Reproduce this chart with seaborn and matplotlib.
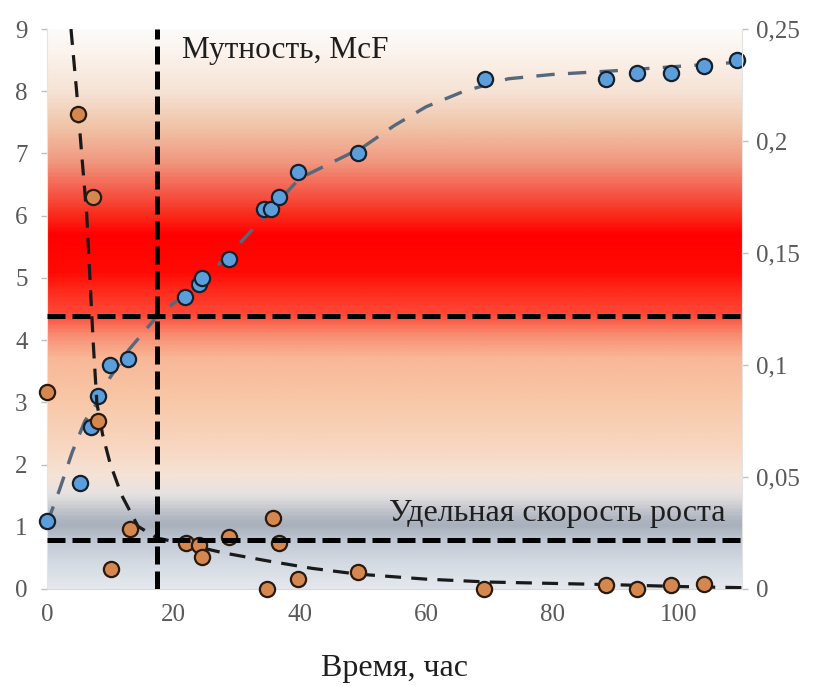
import numpy as np
import pandas as pd
import matplotlib
matplotlib.use("Agg")
import matplotlib.pyplot as plt
import seaborn as sns
from matplotlib.colors import LinearSegmentedColormap
from matplotlib.ticker import FuncFormatter

# мутность, McF (левая ось)
t_mcf = [0, 5.2, 7.0, 8.1, 10.0, 12.8, 21.8, 24.0, 24.6, 28.8, 34.4, 35.5, 36.8,
         39.8, 49.3, 69.4, 88.5, 93.4, 98.7, 104.0, 109.2]
mcf = [1.1, 1.7, 2.6, 3.1, 3.6, 3.7, 4.7, 4.9, 5.0, 5.3, 6.1, 6.1, 6.3,
       6.7, 7.0, 8.2, 8.2, 8.3, 8.3, 8.4, 8.5]

# аппроксимация мутности
t_mcf_fit = [0, 2, 4, 6, 8, 10, 13, 17.4, 22, 26, 30, 35, 40, 45, 50, 55, 60,
             66, 73, 80, 90, 100, 110]
mcf_fit = [1.05, 1.6, 2.2, 2.7, 3.0, 3.4, 3.85, 4.38, 4.75, 5.1, 5.5, 6.05, 6.6,
           6.85, 7.1, 7.45, 7.75, 8.0, 8.2, 8.27, 8.33, 8.4, 8.47]

# удельная скорость роста (правая ось)
t_mu = [0, 4.9, 7.3, 8.1, 10.1, 13.1, 22.0, 24.0, 24.6, 28.8, 34.9, 35.7, 36.7,
        39.7, 49.3, 69.2, 88.5, 93.4, 98.7, 104.0]
mu = [0.088, 0.212, 0.175, 0.075, 0.009, 0.027, 0.0205, 0.0195, 0.0143, 0.0233,
      0.0, 0.0317, 0.0205, 0.0044, 0.0075, 0.0, 0.0017, 0.0, 0.0017, 0.0022]

# аппроксимация скорости роста
t_mu_fit = [3.8, 4.7, 5.5, 6.3, 6.8, 7.3, 7.9, 8.8, 10.0, 11.8, 14.4, 17.4, 22,
            28, 35, 42, 49, 60, 70, 80, 90, 100, 110]
mu_fit = [0.25, 0.222, 0.194, 0.167, 0.139, 0.111, 0.083, 0.069, 0.056, 0.042,
          0.028, 0.0228, 0.02, 0.0161, 0.0125, 0.0092, 0.0067, 0.0044, 0.0031,
          0.0025, 0.0019, 0.0011, 0.0006]

# пороговые линии
t_cross = 17.4
mcf_level = 4.38
mu_level = 0.022

left_ticks = list(range(0, 10))
right_ticks = [0, 0.05, 0.1, 0.15, 0.2, 0.25]
x_ticks = [0, 20, 40, 60, 80, 100]

df_mcf = pd.DataFrame({"t": t_mcf, "v": mcf})
df_mcf_fit = pd.DataFrame({"t": t_mcf_fit, "v": mcf_fit})
df_mu = pd.DataFrame({"t": t_mu, "v": mu})
df_mu_fit = pd.DataFrame({"t": t_mu_fit, "v": mu_fit})

sns.set_style("white")
plt.rcParams["font.family"] = ["Liberation Serif", "DejaVu Serif"]

fig = plt.figure(figsize=(8.14, 6.86), dpi=100)
ax = fig.add_axes([0.0577, 0.1414, 0.8538, 0.8163])
ax.set_xlim(0, 110)
ax.set_ylim(0, 9)

# фоновый градиент
stops = [
    (0.0, "#e4e8ee"), (0.4, "#d4dae2"), (0.75, "#c0c8d4"), (1.0, "#a8b0bc"),
    (1.15, "#b4bac4"), (1.5, "#e6e2e2"), (1.8, "#f5e3d6"), (2.2, "#f8d8c4"),
    (3.0, "#f8c8a8"), (3.7, "#f8b898"), (4.1, "#f88a70"), (4.4, "#ff4a38"),
    (4.8, "#ff2a1c"), (5.1, "#ff0a05"), (5.7, "#ff0000"), (6.0, "#fa2818"),
    (6.4, "#f55a4a"), (6.9, "#f09a80"), (7.45, "#f0c4a8"), (8.0, "#f6e2d4"),
    (8.6, "#fbf2eb"), (9.0, "#fdfbf9"),
]
cmap = LinearSegmentedColormap.from_list("bg", [(p / 9.0, c) for p, c in stops])
grad = np.linspace(0, 1, 400).reshape(-1, 1)
ax.imshow(grad, cmap=cmap, aspect="auto", origin="lower",
          extent=[0, 110, 0, 9], zorder=0)

sns.lineplot(data=df_mcf_fit, x="t", y="v", ax=ax, color="#56687c", lw=2.4,
             zorder=2)
ax.lines[-1].set_linestyle((0, (5.5, 4)))
sns.scatterplot(data=df_mcf, x="t", y="v", ax=ax, color="#5c9edb", s=120,
                edgecolor="#14202c", linewidth=1.6, zorder=3, clip_on=False)

ax2 = ax.twinx()
ax2.set_ylim(0, 0.25)
sns.lineplot(data=df_mu_fit, x="t", y="v", ax=ax2, color="#1a1a1a", lw=2.3,
             zorder=2)
ax2.lines[-1].set_linestyle((0, (5, 3.2)))
sns.scatterplot(data=df_mu, x="t", y="v", ax=ax2, color="#d4874e", s=120,
                edgecolor="#2a1a0e", linewidth=1.6, zorder=3, clip_on=False)

dash = (0, (3.6, 1.4))
ax2.axhline(mcf_level * 0.25 / 9, color="black", lw=3.6, ls=dash, zorder=4)
ax2.axhline(mu_level, color="black", lw=3.6, ls=dash, zorder=4)
ax2.axvline(t_cross, color="black", lw=3.6, ls=dash, zorder=4)

ax.text(21.3, 8.65, "Мутность, McF", fontsize=22.5, color="#1e1e1e",
        ha="left", va="center", zorder=5)
ax.text(107.4, 1.22, "Удельная скорость роста", fontsize=23, color="#1e1e1e",
        ha="right", va="center", zorder=5)

ax.set_xticks(x_ticks)
ax.set_yticks(left_ticks)
ax2.set_yticks(right_ticks)
ax2.yaxis.set_major_formatter(FuncFormatter(lambda v, p: f"{v:g}".replace(".", ",")))

for a in (ax, ax2):
    a.tick_params(axis="both", labelsize=18, labelcolor="#595959", color="#bfbfbf",
                  length=4, width=1)
    for s in a.spines.values():
        s.set_visible(False)
ax.tick_params(axis="x", length=0, pad=11)
ax.tick_params(axis="y", pad=10)
ax2.tick_params(axis="y", pad=6)
ax.spines["bottom"].set_visible(True)
ax.spines["bottom"].set_color("#d9d9d9")
ax2.spines["right"].set_visible(True)
ax2.spines["right"].set_color("#e3e3e3")
ax.spines["left"].set_visible(True)
ax.spines["left"].set_color("#e3e3e3")

ax.set_xlabel("Время, час", fontsize=23, color="#1e1e1e", labelpad=20)
ax.set_ylabel("")
ax2.set_ylabel("")

fig.savefig("out.png", dpi=100)
